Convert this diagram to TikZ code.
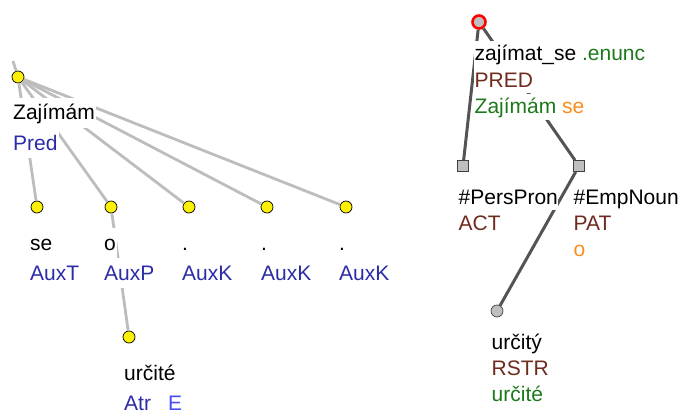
\documentclass[tikz,border=0pt]{standalone}
\usepackage{fontspec}
\setmainfont{Liberation Sans}
\usepackage{tikz}
\usetikzlibrary{positioning}
\usepackage{xcolor}
\definecolor{afun}{HTML}{2C2CA8}
\definecolor{ebright}{HTML}{4B4BF5}
\definecolor{functor}{HTML}{6E2B1E}
\definecolor{lemma}{HTML}{1C7A1C}
\definecolor{auxw}{HTML}{FF8C1A}

\begin{document}
\begin{tikzpicture}[x=1pt,y=-1pt,font=\fontsize{21}{25}\selectfont,
	anode/.style={circle,draw=black,fill=yellow,line width=0.7pt,inner sep=0pt,minimum size=12pt},
	tnode/.style={circle,draw=black!75,fill=black!25,line width=0.7pt,inner sep=0pt,minimum size=12pt},
	tsq/.style={rectangle,draw=black!75,fill=black!25,line width=0.7pt,inner sep=0pt,minimum size=11pt},
	aedge/.style={draw=black!26,line width=2.8pt},
	tedge/.style={draw=black!67,line width=3pt},
	lab/.style={fill=white,inner sep=1pt,text height=21pt,text depth=7pt,anchor=base west},
	tlab/.style={lab,inner xsep=0.5pt,text height=19pt,text depth=5pt},
	nextrow/.style={below=0pt of #1.south west,anchor=north west}]
		\useasboundingbox (0,0) rectangle (679,414);

		% analytical tree
		\node[anode] (n0) at (18,77) {};
		\node[anode] (n1) at (37,207) {};
		\node[anode] (n2) at (111,207) {};
		\node[anode] (n3) at (189,207) {};
		\node[anode] (n4) at (267,207) {};
		\node[anode] (n5) at (346,207) {};
		\node[anode] (n6) at (129,337) {};
		\coordinate (up0) at (13,61);

		\path[aedge] (up0) edge (n0);
		\foreach \c in {1,...,5}
			\path[aedge] (n0) edge (n\c);
		\path[aedge] (n2) edge (n6);

		\node[lab] (w0) at (12,120) {Zajímám};
		\node[lab,text=afun,nextrow=w0] (f0) {Pred};
		\node[lab] (w1) at (29,250) {se};
		\node[lab,text=afun,nextrow=w1] (f1) {AuxT};
		\node[lab] (w2) at (103,250) {o};
		\node[lab,text=afun,nextrow=w2] (f2) {AuxP};
		\node[lab] (w3) at (181,250) {.};
		\node[lab,text=afun,nextrow=w3] (f3) {AuxK};
		\node[lab] (w4) at (260,250) {.};
		\node[lab,text=afun,nextrow=w4] (f4) {AuxK};
		\node[lab] (w5) at (338,250) {.};
		\node[lab,text=afun,nextrow=w5] (f5) {AuxK};
		\node[lab] (w6) at (123,380) {určité};
		\node[lab,text=afun,nextrow=w6] (f6) {Atr\hspace{17pt}\textcolor{ebright}{E}};

		% tectogrammatical tree
		\node[tnode,draw=red,line width=2.6pt,minimum size=13pt] (m0) at (479,22) {};
		\node[tsq] (m1) at (463,166) {};
		\node[tsq] (m2) at (579,166) {};
		\node[tnode] (m3) at (497,311) {};

		\path[tedge] (m0) edge (m1);
		\path[tedge] (m0) edge (m2);
		\path[tedge] (m2) edge (m3);

		\node[tlab] (t0) at (474,61) {zajímat\_se \textcolor{lemma}{.enunc}};
		\node[tlab,text=functor,nextrow=t0] (g0) {PRED};
		\node[tlab,text=lemma,nextrow=g0] (h0) {Zajímám \textcolor{auxw}{se}};
		\node[tlab] (t1) at (458,204) {\#PersPron};
		\node[tlab,text=functor,nextrow=t1] (g1) {ACT};
		\node[tlab] (t2) at (573,204) {\#EmpNoun};
		\node[tlab,text=functor,nextrow=t2] (g2) {PAT};
		\node[tlab,text=auxw,nextrow=g2] (h2) {o};
		\node[tlab] (t3) at (491,349) {určitý};
		\node[tlab,text=functor,nextrow=t3] (g3) {RSTR};
		\node[tlab,text=lemma,nextrow=g3] (h3) {určité};
\end{tikzpicture}
\end{document}
